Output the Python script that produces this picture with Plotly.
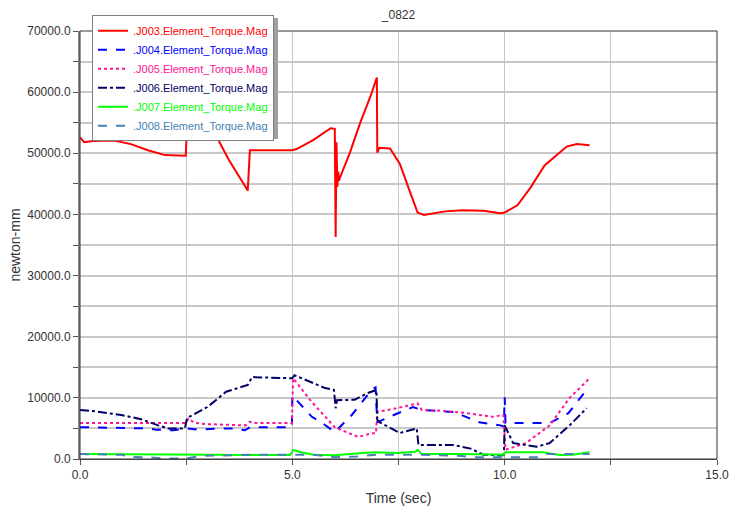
import plotly.graph_objects as go

# ---------------- data ----------------
t_j003 = [0, 0.1, 0.3, 0.8, 1.2, 1.6, 2.0, 2.49, 2.52, 2.7, 3.0, 3.15, 3.5, 3.95, 4.0, 5.0, 5.1, 5.5, 5.9,
          6.0, 6.02, 6.04, 6.06, 6.08, 6.1, 6.12, 6.35, 6.6, 6.85, 6.99, 7.0, 7.05, 7.3, 7.53, 7.76, 7.95,
          8.1, 8.3, 8.6, 9.0, 9.5, 9.9, 10.0, 10.3, 10.6, 10.94, 11.3, 11.46, 11.7, 12.0]
v_j003 = [52600, 51800, 52000, 52100, 51500, 50500, 49700, 49600, 54500, 55500, 55000, 53600, 49000, 43900,
          50500, 50500, 50700, 52200, 54100, 54000, 36300, 51800, 44500, 47000, 45500, 46000, 50000, 55000,
          59500, 62400, 50100, 50900, 50800, 48300, 43900, 40300, 39900, 40100, 40500, 40700, 40600, 40200,
          40300, 41500, 44300, 48000, 50100, 51100, 51500, 51300]

t_j004 = [0, 1.2, 1.6, 1.8, 2.2, 2.5, 2.8, 3.3, 3.6, 3.88, 4.0, 4.99, 5.0, 5.46, 5.76, 6.0, 6.4, 6.87, 6.96,
          7.0, 7.22, 7.84, 8.05, 8.8, 9.4, 9.9, 9.98, 10.0, 10.02, 10.1, 11.06, 11.5, 11.93]
v_j004 = [5200, 5100, 5000, 4800, 4700, 5000, 4800, 5000, 5000, 4700, 5200, 5200, 10400, 6900, 5600, 4400,
          7200, 11300, 11700, 6000, 6700, 8500, 8000, 7700, 6000, 5500, 5300, 10100, 5900, 5900, 5900, 7500,
          11300]

t_j005 = [0, 2.5, 2.55, 2.7, 3.0, 3.5, 3.9, 4.0, 4.1, 4.99, 5.02, 5.46, 6.0, 6.55, 6.87, 6.97, 7.0, 7.45,
          7.95, 8.05, 8.5, 9.0, 9.72, 9.97, 10.02, 10.5, 11.06, 11.53, 12.0]
v_j005 = [5900, 5900, 6600, 5900, 5700, 5600, 5500, 6100, 5900, 5900, 13200, 9300, 5200, 3600, 4200, 4200,
          7700, 8300, 9100, 8000, 7900, 7600, 6900, 7200, 1500, 2600, 5500, 10000, 13200]

t_j006 = [0, 0.35, 0.97, 1.44, 1.84, 2.07, 2.47, 2.52, 3.0, 3.44, 3.95, 4.05, 5.0, 5.05, 5.77, 5.98, 6.02,
          6.05, 6.47, 6.78, 6.98, 7.0, 7.06, 7.53, 7.93, 7.97, 8.78, 9.2, 9.5, 9.98, 10.0, 10.2, 10.75, 11.06,
          11.53, 11.93]
v_j006 = [8000, 7800, 7200, 6500, 5500, 5000, 5000, 6700, 8500, 11000, 12100, 13400, 13200, 13700, 11600,
          11300, 8300, 9600, 9700, 10800, 11300, 6400, 6000, 4250, 5000, 2300, 2300, 1700, 700, 600, 5500,
          2600, 2000, 2600, 5500, 8300]

t_j007 = [0, 2.5, 3.0, 4.0, 4.95, 5.02, 5.2, 5.5, 6.0, 6.5, 6.95, 7.5, 7.9, 7.95, 8.05, 9.0, 9.98, 10.02,
          10.5, 10.9, 11.3, 11.6, 12.0]
v_j007 = [800, 800, 700, 650, 650, 1500, 1100, 700, 600, 900, 1100, 1000, 1200, 1500, 800, 800, 700, 1100,
          1100, 1100, 650, 700, 1100]

t_j008 = [0, 1.0, 1.1, 1.5, 2.0, 2.5, 2.85, 3.5, 4.0, 5.0, 5.5, 6.0, 6.5, 7.0, 8.0, 9.0, 9.2, 10.0, 10.8,
          11.0, 12.0]
v_j008 = [800, 700, 350, 300, 100, 100, 500, 600, 700, 700, 700, 300, 400, 700, 700, 500, 300, 300, 300,
          800, 800]

names = [".J003.Element_Torque.Mag", ".J004.Element_Torque.Mag", ".J005.Element_Torque.Mag",
         ".J006.Element_Torque.Mag", ".J007.Element_Torque.Mag", ".J008.Element_Torque.Mag"]

# ---------------- figure ----------------
series = [
    (t_j003, v_j003, "#FF0000", "solid"),
    (t_j004, v_j004, "#0000FF", "dash"),
    (t_j005, v_j005, "#FF1493", "dot"),
    (t_j006, v_j006, "#000066", "dashdot"),
    (t_j007, v_j007, "#00FF00", "solid"),
    (t_j008, v_j008, "#4682B4", "dash"),
]

fig = go.Figure()
for (tx, vy, col, dash), nm in zip(series, names):
    fig.add_trace(go.Scatter(
        x=tx, y=vy, mode="lines", name=f"<span style='color:{col}'>{nm}</span>",
        line=dict(color=col, width=2, dash=dash),
    ))

FONT = "Arial, Liberation Sans, sans-serif"
grid = "#C8C8C8"
PL, PT, PW, PH = 80, 31, 637, 428  # plot area in pixels


def px_x(p):
    return (p - PL) / PW


def px_y(p):
    return (PT + PH - p) / PH


fig.update_layout(
    width=731, height=510,
    margin=dict(l=80, r=14, t=31, b=51),
    paper_bgcolor="white", plot_bgcolor="white",
    font=dict(family=FONT, size=12, color="#333333"),
    title=dict(text="_0822", x=0.5, xref="paper", y=1 - 15 / 510, yref="container",
               xanchor="center", yanchor="middle", font=dict(size=12, color="#333333")),
    showlegend=True,
    legend=dict(x=0.0188, y=1.037, xanchor="left", yanchor="top", bgcolor="white",
                bordercolor="#808080", borderwidth=1, font=dict(size=11), tracegroupgap=0,
                itemwidth=30),
    xaxis=dict(range=[0, 15], dtick=5, tick0=0, tickformat=".1f", showgrid=True, gridcolor=grid,
               gridwidth=1, zeroline=False, showline=True, linecolor="#555555", linewidth=1,
               ticks="outside", ticklen=5, tickcolor="#555555", automargin=False,
               minor=dict(dtick=2.5, showgrid=True, gridcolor=grid, ticks="outside", ticklen=5,
                          tickcolor="#555555"),
               title=dict(text="Time (sec)", standoff=11)),
    yaxis=dict(range=[0, 70000], dtick=10000, tick0=0, tickformat=".1f", showgrid=True, gridcolor=grid,
               gridwidth=2, zeroline=False, showline=True, linecolor="#888888", linewidth=2,
               ticks="outside", ticklen=5, tickcolor="#555555", automargin=False,
               minor=dict(dtick=5000, showgrid=True, gridcolor=grid, gridwidth=2, ticks="outside",
                          ticklen=5, tickcolor="#555555"),
               title=dict(text="newton-mm", standoff=3)),
    shapes=[
        dict(type="rect", xref="paper", yref="paper", x0=0, x1=1, y0=0, y1=1,
             line=dict(color="#333333", width=1), layer="above"),
        # legend drop shadow
        dict(type="rect", xref="paper", yref="paper", x0=px_x(95), x1=px_x(278),
             y0=px_y(139), y1=px_y(18), line=dict(width=0), fillcolor="#A0A0A0", layer="above"),
    ],
)

fig.write_html("out.html", config={"displayModeBar": False},
               post_script="document.body.style.margin='0';document.body.style.padding='0';")
